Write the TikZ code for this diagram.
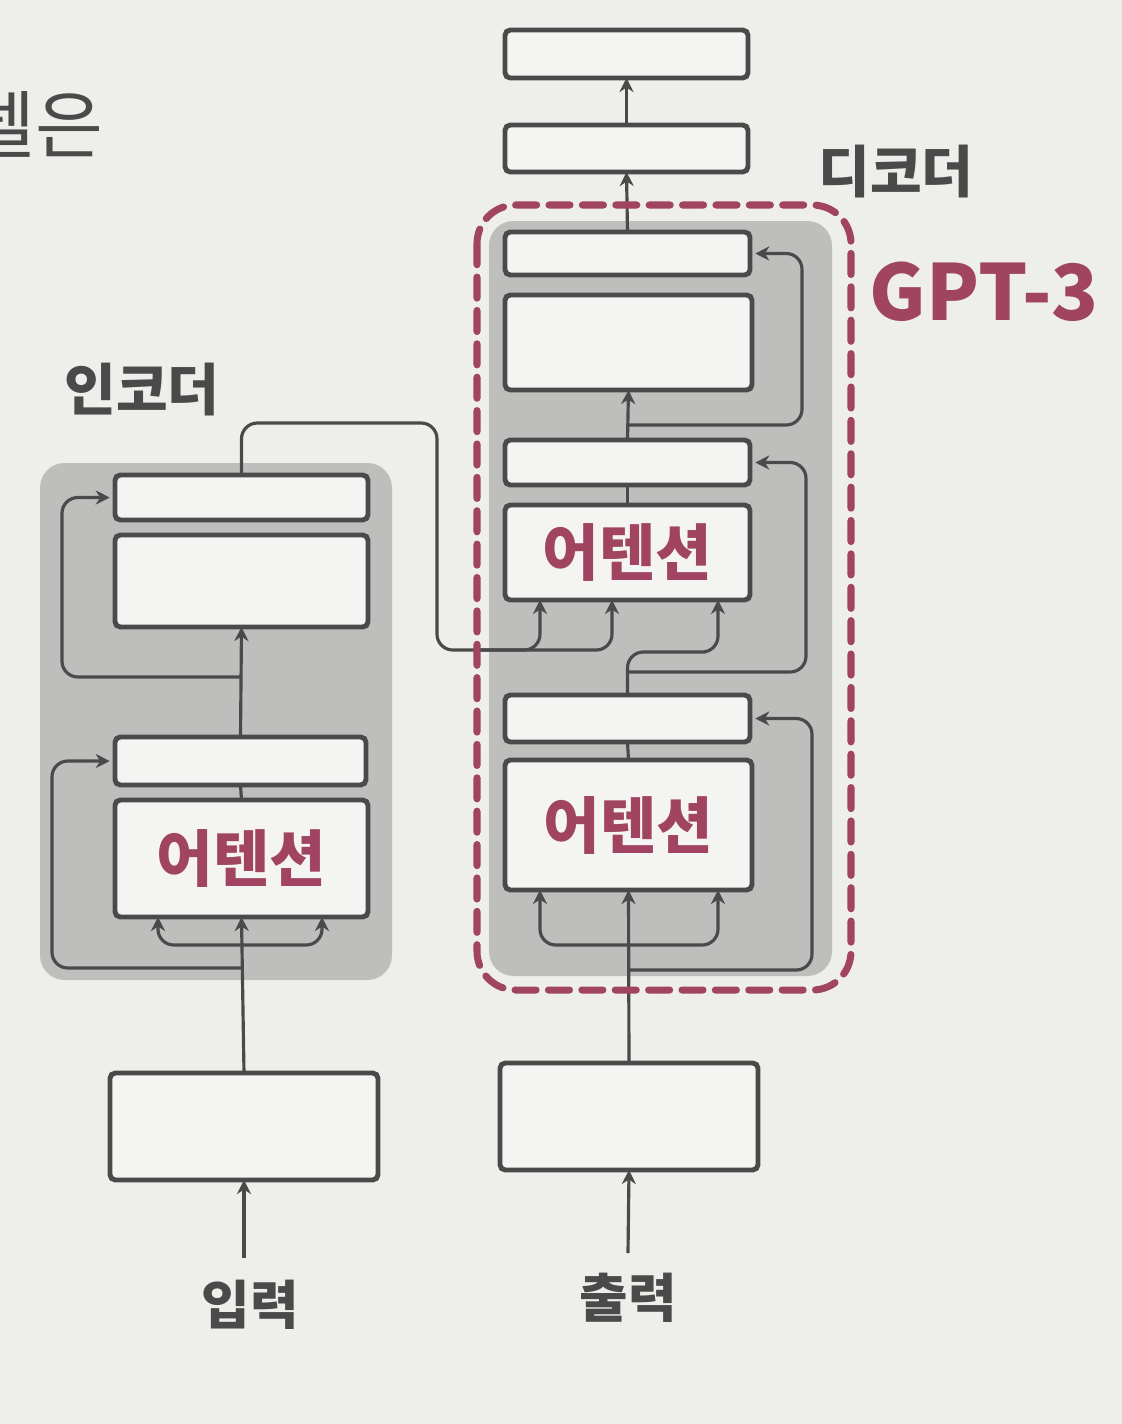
\documentclass[tikz,border=0pt]{standalone}
\usepackage{fontspec}
\setmainfont{Noto Sans CJK KR}
\usetikzlibrary{arrows.meta,calc}
\definecolor{paper}{RGB}{238,238,235}
\definecolor{shade}{RGB}{190,190,188}
\definecolor{boxfill}{RGB}{244,244,242}
\definecolor{ink}{RGB}{74,74,74}
\definecolor{maroon}{RGB}{160,68,98}
\tikzset{
  box/.style={draw=ink, line width=2.8pt, fill=boxfill, rounded corners=3pt, inner sep=0pt, outer sep=0pt},
  conn/.style={draw=ink, line width=1.8pt},
  arr/.style={conn, -{Stealth[length=8pt,width=8pt]}, rounded corners=9pt},
  arrb/.style={conn, {Stealth[length=8pt,width=8pt]}-{Stealth[length=8pt,width=8pt]}, rounded corners=9pt},
  lbl/.style={text=ink, font=\bfseries\fontsize{32}{36}\selectfont, inner sep=0pt},
  att/.style={text=maroon, font=\bfseries\fontsize{35}{39}\selectfont},
  region/.style={fill=shade, rounded corners=14pt},
  gpt/.style={draw=maroon, line width=4pt, dash pattern=on 12pt off 7pt, rounded corners=22pt, line cap=round}
}
\newcommand\mybox[6]{\node[box,minimum width={(#4-#2)*0.02cm},minimum height={(#5-#3)*0.02cm}] (#1) at ({(#2+#4)/2},{(#3+#5)/2}) {#6};}
\begin{document}
\begin{tikzpicture}[x=0.02cm,y=-0.02cm]
\useasboundingbox (0,0) rectangle (1122,1424);
\clip (0,0) rectangle (1122,1424);
\fill[paper] (0,0) rectangle (1122,1424);
% partial text at top left (cut by the page edge, as in the reference)
\node[anchor=east, text=ink, font=\fontsize{42}{46}\selectfont, inner sep=0pt] (prev) at (104,124) {델은};
% shaded regions
\path[region] (40,463) rectangle (392,980);
\path[region] (489,221) rectangle (832,976);
% encoder boxes
\mybox{ein}{110}{1073}{378}{1180}{}
\mybox{eatt}{115}{800}{368}{917}{}
\node[att] (eattl) at (eatt) {어텐션};
\mybox{en1}{115}{737}{366}{785}{}
\mybox{eff}{115}{535}{368}{627}{}
\mybox{en2}{115}{475}{368}{520}{}
% decoder boxes
\mybox{dout}{500}{1063}{758}{1170}{}
\mybox{datt1}{505}{760}{752}{890}{}
\node[att] (datt1l) at (datt1) {어텐션};
\mybox{dn1}{505}{695}{750}{742}{}
\mybox{datt2}{505}{505}{750}{600}{}
\node[att] (datt2l) at (datt2) {어텐션};
\mybox{dn2}{505}{440}{750}{485}{}
\mybox{dff}{505}{295}{752}{390}{}
\mybox{dn3}{505}{232}{750}{275}{}
\mybox{top2}{505}{125}{748}{172}{}
\mybox{top1}{505}{30}{748}{78}{}
% labels
\node[lbl] (enclbl) at (142,390) {인코더};
\node[lbl] (declbl) at (896,172) {디코더};
\node[lbl, font=\bfseries\fontsize{30}{34}\selectfont] (inlbl) at (250,1305) {입력};
\node[lbl, font=\bfseries\fontsize{30}{34}\selectfont] (outlbl) at (628,1298) {출력};
\node[text=maroon, font=\bfseries\fontsize{44}{50}\selectfont, inner sep=0pt] (gptlbl) at (984,292) {GPT-3};
% ---- encoder connectors
\coordinate (inp) at (244,1258);
\draw[arr] (inp) -- (ein.south);
\draw[arr] (ein.north) -- (eatt.south);
\draw[arrb] (158,0 |- eatt.south) |- (240,945) -| (322,0 |- eatt.south);
\draw[arr] (241.5,968) -| (52,0 |- en1.west) -- ([xshift=-3pt]en1.west);
\draw[conn] (eatt.north) -- (en1.south);
\draw[arr] (en1.north) -- (eff.south);
\draw[arr] (241.5,677) -| (62,0 |- en2.west) -- ([xshift=-3pt]en2.west);
% encoder -> decoder cross attention
\draw[arr] (en2.north) |- (437,423) |- (580,650) -| (612,0 |- datt2.south);
\draw[arr] (480,650) -| (540,0 |- datt2.south);
% ---- decoder connectors
\coordinate (outp) at (628,1253);
\draw[arr] (outp) -- (dout.south);
\draw[arr] (dout.north) -- (datt1.south);
\draw[arrb] (540,0 |- datt1.south) |- (625,945) -| (718,0 |- datt1.south);
\draw[arr] (628.5,970) -| (812,0 |- dn1.east) -- ([xshift=3pt]dn1.east);
\draw[conn] (datt1.north) -- (dn1.south);
\draw[arr] (dn1.north) |- (690,652) -| (718,0 |- datt2.south);
\draw[arr] (627.5,672) -| (806,0 |- dn2.east) -- ([xshift=3pt]dn2.east);
\draw[conn] (datt2.north) -- (dn2.south);
\draw[arr] (dn2.north) -- (dff.south);
\draw[arr] (627.5,425) -| (802,0 |- dn3.east) -- ([xshift=3pt]dn3.east);
\draw[arr] (dn3.north) -- (top2.south);
\draw[arr] (top2.north) -- (top1.south);
% GPT-3 dashed frame
\draw[gpt] (477,205) rectangle (851,990);
\end{tikzpicture}
\end{document}
